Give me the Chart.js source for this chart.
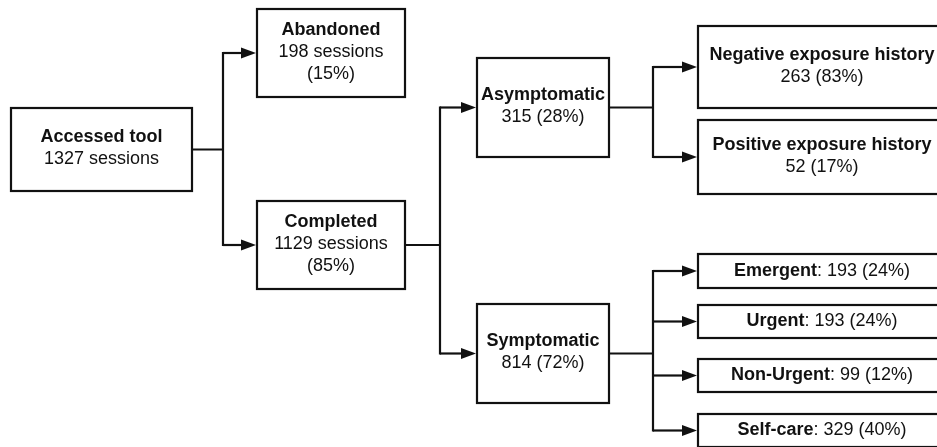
<!DOCTYPE html>
<html>
<head>
<meta charset="utf-8">
<script src="https://cdn.jsdelivr.net/npm/chart.js@4/dist/chart.umd.min.js"></script>
<style>
  html, body { margin: 0; padding: 0; background: #fff; }
  #wrap { width: 937px; height: 447px; position: relative; }
</style>
</head>
<body>
<div id="wrap"><canvas id="flow"></canvas></div>
<script>
// flow data
const nodeTitles = [
  "Accessed tool", "Abandoned", "Completed", "Asymptomatic", "Symptomatic",
  "Negative exposure history", "Positive exposure history",
  "Emergent", "Urgent", "Non-Urgent", "Self-care",
];
const nodeCounts = [1327, 198, 1129, 315, 814, 263, 52, 193, 193, 99, 329];
const nodePcts = [null, 15, 85, 28, 72, 83, 17, 24, 24, 12, 40];
const nodeParents = [-1, 0, 0, 2, 2, 3, 3, 4, 4, 4, 4];

// layout (in scale units, the scales map them 1:1 to the canvas)
const textModes = ["sessions", "sessions3", "sessions3", "stack", "stack",
  "stack", "stack", "inline", "inline", "inline", "inline"];
const colLeft = [11, 257, 477, 698];
const colRight = [192, 405, 609, 946];
const junctionX = [223, 440, 653];
const boxTop = [108, 9, 201, 58, 304, 26, 120, 254, 305, 359, 414];
const boxBottom = [191, 97, 289, 157, 403, 108, 194, 288, 338, 392, 447];

const depth = nodeParents.map((p, i) => {
  let d = 0, k = i;
  while (nodeParents[k] >= 0) { k = nodeParents[k]; d++; }
  return d;
});

const centers = nodeTitles.map((t, i) => ({
  x: (colLeft[depth[i]] + colRight[depth[i]]) / 2,
  y: (boxTop[i] + boxBottom[i]) / 2,
}));

const FONT = '"Liberation Sans", Arial, sans-serif';

const flowPlugin = {
  id: "flow",
  afterDatasetsDraw(chart) {
    const ctx = chart.ctx;
    const sx = chart.scales.x, sy = chart.scales.y;
    const px = (v) => sx.getPixelForValue(v);
    const py = (v) => sy.getPixelForValue(v);

    ctx.save();
    ctx.strokeStyle = "#111";
    ctx.fillStyle = "#111";
    ctx.lineWidth = 2.2;
    ctx.lineJoin = "miter";

    // connectors
    nodeTitles.forEach((t, p) => {
      const kids = nodeParents.map((q, i) => (q === p ? i : -1)).filter((i) => i >= 0);
      if (!kids.length) return;
      const d = depth[p];
      const jx = px(junctionX[d]);
      const ys = kids.map((k) => py(centers[k].y));
      ctx.beginPath();
      ctx.moveTo(px(colRight[d]), py(centers[p].y));
      ctx.lineTo(jx, py(centers[p].y));
      ctx.moveTo(jx, Math.min(...ys) - 1);
      ctx.lineTo(jx, Math.max(...ys) + 1);
      ctx.stroke();
      kids.forEach((k) => {
        const y = py(centers[k].y);
        const tip = px(colLeft[d + 1]) - 1;
        ctx.beginPath();
        ctx.moveTo(jx, y);
        ctx.lineTo(tip - 12, y);
        ctx.stroke();
        ctx.beginPath();
        ctx.moveTo(tip, y);
        ctx.lineTo(tip - 15, y - 5.5);
        ctx.lineTo(tip - 15, y + 5.5);
        ctx.closePath();
        ctx.fill();
      });
    });

    // boxes
    nodeTitles.forEach((t, i) => {
      const d = depth[i];
      const x0 = px(colLeft[d]), x1 = px(colRight[d]);
      const y0 = py(boxTop[i]), y1 = py(boxBottom[i]);
      ctx.fillStyle = "#fff";
      ctx.fillRect(x0, y0, x1 - x0, y1 - y0);
      ctx.strokeRect(x0, y0, x1 - x0, y1 - y0);
    });

    // labels
    ctx.fillStyle = "#111";
    ctx.textBaseline = "middle";
    const bold = "bold 18px " + FONT;
    const reg = "18px " + FONT;
    const lh = 22;
    nodeTitles.forEach((t, i) => {
      const cx = px(centers[i].x);
      const cy = py(centers[i].y) - 1;
      const mode = textModes[i];
      let lines;
      if (mode === "inline") {
        const rest = ": " + nodeCounts[i] + " (" + nodePcts[i] + "%)";
        ctx.font = bold;
        const w1 = ctx.measureText(t).width;
        ctx.font = reg;
        const w2 = ctx.measureText(rest).width;
        const start = cx - (w1 + w2) / 2;
        ctx.textAlign = "left";
        ctx.font = bold;
        ctx.fillText(t, start, cy + 1);
        ctx.font = reg;
        ctx.fillText(rest, start + w1, cy + 1);
        return;
      }
      if (mode === "sessions") {
        lines = [t, nodeCounts[i] + " sessions"];
      } else if (mode === "sessions3") {
        lines = [t, nodeCounts[i] + " sessions", "(" + nodePcts[i] + "%)"];
      } else {
        lines = [t, nodeCounts[i] + " (" + nodePcts[i] + "%)"];
      }
      ctx.textAlign = "center";
      const top = cy - ((lines.length - 1) * lh) / 2;
      lines.forEach((s, j) => {
        ctx.font = j === 0 ? bold : reg;
        ctx.fillText(s, cx, top + j * lh);
      });
    });
    ctx.restore();
  },
};

new Chart(document.getElementById("flow"), {
  type: "scatter",
  data: {
    datasets: [
      {
        label: "nodes",
        data: centers,
        pointRadius: 0,
        pointHoverRadius: 0,
      },
    ],
  },
  options: {
    responsive: true,
    maintainAspectRatio: false,
    animation: false,
    events: [],
    layout: { padding: 0 },
    plugins: { legend: { display: false }, tooltip: { enabled: false } },
    scales: {
      x: { type: "linear", min: 0, max: 937, display: false },
      y: { type: "linear", min: 0, max: 447, reverse: true, display: false },
    },
  },
  plugins: [flowPlugin],
});
</script>
</body>
</html>
